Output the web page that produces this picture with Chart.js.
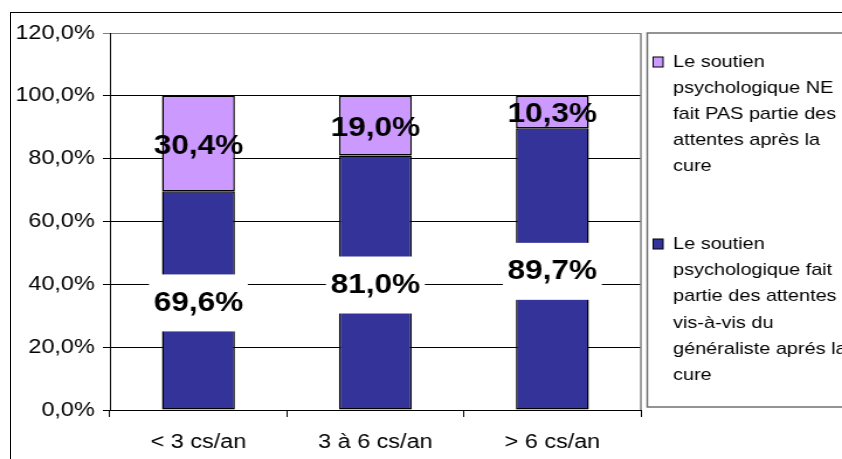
<!DOCTYPE html>
<html>
<head>
<meta charset="utf-8">
<script src="https://cdn.jsdelivr.net/npm/chart.js@4/dist/chart.umd.min.js"></script>
<style>
  html, body { margin: 0; padding: 0; background: #fff; overflow: hidden; }
  #cadre { position: absolute; left: 10px; top: 12px; width: 900px; height: 500px; border: 1px solid #000; }
  #zone { position: absolute; left: 0; top: 0; width: 720px; height: 459px; transform: scaleX(1.169444); transform-origin: 0 0; }
</style>
</head>
<body>
<div id="cadre"></div>
<div id="zone"><canvas id="graphique" width="720" height="459"></canvas></div>
<script>
var categories = ['< 3 cs/an', '3 à 6 cs/an', '> 6 cs/an'];
var valeursFait = [69.6, 81.0, 89.7];
var valeursNeFaitPas = [30.4, 19.0, 10.3];
var legendeFait = ['Le soutien', 'psychologique fait', 'partie des attentes', 'vis-à-vis du', 'généraliste aprés la', 'cure'];
var legendeNeFaitPas = ['Le soutien', 'psychologique NE', 'fait PAS partie des', 'attentes après la', 'cure'];

function formatPct(v) {
    return v.toFixed(1).replace('.', ',') + '%';
}

// etiquettes de valeurs sur les barres
var pluginEtiquettes = {
    id: 'etiquettes',
    afterDatasetsDraw: function (chart) {
        var ctx = chart.ctx;
        ctx.save();
        ctx.font = 'bold 27px "Liberation Sans", Arial, sans-serif';
        ctx.textAlign = 'center';
        ctx.textBaseline = 'middle';
        chart.data.datasets.forEach(function (ds, i) {
            var meta = chart.getDatasetMeta(i);
            meta.data.forEach(function (bar, j) {
                var p = bar.getProps(['x', 'y', 'base'], true);
                var cy = (p.y + p.base) / 2 + 2;
                var txt = formatPct(ds.data[j]);
                var w = ctx.measureText(txt).width;
                if (ds.fondEtiquette) {
                    ctx.fillStyle = '#fff';
                    ctx.fillRect(p.x - w / 2 - 4, cy - 28, w + 8, 57);
                }
                ctx.fillStyle = '#000';
                ctx.fillText(txt, p.x, cy + 1);
            });
        });
        ctx.restore();
    }
};

// bord droit de la zone de traçage + légende à droite
var pluginLegende = {
    id: 'legendeDroite',
    afterDraw: function (chart) {
        var ctx = chart.ctx;
        var a = chart.chartArea;
        ctx.save();
        ctx.strokeStyle = '#808080';
        ctx.lineWidth = 1.5;
        ctx.beginPath();
        ctx.moveTo(a.right, a.top);
        ctx.lineTo(a.right, a.bottom);
        ctx.stroke();

        var gauche = a.right + 5.5;
        ctx.strokeStyle = '#707070';
        ctx.strokeRect(gauche, a.top, 300, 374);

        var groupes = [
            { ds: chart.data.datasets[1], lignes: legendeNeFaitPas, y: 62, pas: 26 },
            { ds: chart.data.datasets[0], lignes: legendeFait, y: 244, pas: 26.3 }
        ];
        ctx.font = '17px "Liberation Sans", Arial, sans-serif';
        ctx.textBaseline = 'middle';
        ctx.textAlign = 'left';
        groupes.forEach(function (g) {
            ctx.fillStyle = g.ds.backgroundColor;
            ctx.fillRect(gauche + 5, g.y - 5, 8.5, 10);
            ctx.strokeStyle = '#000';
            ctx.lineWidth = 1;
            ctx.strokeRect(gauche + 5, g.y - 5, 8.5, 10);
            ctx.fillStyle = '#000';
            g.lignes.forEach(function (l, k) {
                ctx.fillText(l, gauche + 22, g.y + k * g.pas);
            });
        });
        ctx.restore();
    }
};

var ctxGraphique = document.getElementById('graphique').getContext('2d');
var graphique = new Chart(ctxGraphique, {
    type: 'bar',
    data: {
        labels: categories,
        datasets: [{
            label: legendeFait.join(' '),
            data: valeursFait,
            backgroundColor: '#333399',
            borderColor: '#000',
            borderWidth: 1.5,
            borderSkipped: false,
            fondEtiquette: true
        }, {
            label: legendeNeFaitPas.join(' '),
            data: valeursNeFaitPas,
            backgroundColor: '#CC99FF',
            borderColor: '#000',
            borderWidth: 1.5,
            borderSkipped: false,
            fondEtiquette: false
        }]
    },
    options: {
        responsive: false,
        animation: false,
        devicePixelRatio: 1,
        layout: { padding: { top: 33, right: 172, left: 0, bottom: 0 } },
        datasets: { bar: { categoryPercentage: 1, barPercentage: 0.412 } },
        plugins: {
            legend: { display: false },
            tooltip: { enabled: false }
        },
        scales: {
            x: {
                stacked: true,
                afterFit: function (s) { s.height = 49; },
                grid: { drawOnChartArea: false, drawTicks: true, tickLength: 7, color: '#000', offset: true },
                border: { color: '#000', width: 1 },
                ticks: {
                    color: '#000',
                    padding: 13,
                    maxRotation: 0,
                    font: { family: '"Liberation Sans", Arial, sans-serif', size: 20 }
                }
            },
            y: {
                stacked: true,
                min: 0,
                max: 120,
                afterFit: function (s) { s.width = 94; },
                grid: {
                    color: function (c) { return c.tick && c.tick.value === 120 ? '#808080' : '#000'; },
                    tickLength: 6
                },
                border: { color: '#000', width: 1 },
                ticks: {
                    stepSize: 20,
                    color: '#000',
                    padding: 7,
                    font: { family: '"Liberation Sans", Arial, sans-serif', size: 20 },
                    callback: function (v) { return formatPct(v); }
                }
            }
        }
    },
    plugins: [pluginEtiquettes, pluginLegende]
});
</script>
</body>
</html>
